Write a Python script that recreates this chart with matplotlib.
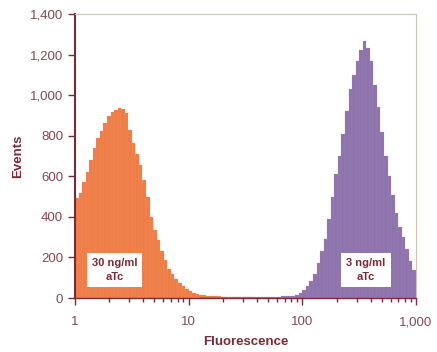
import numpy as np
import matplotlib
matplotlib.use("Agg")
import matplotlib.pyplot as plt
from matplotlib.ticker import FuncFormatter, LogLocator, FixedLocator

# fluorescence channels: 32 log-spaced bins per decade from 1 to 1,000
binsPerDecade = 32
decades = 3

# events per bin
orangeCounts = [
    495, 520, 570, 620, 680, 740, 790, 825, 862, 895,
    915, 928, 935, 932, 910, 830, 765, 710, 655, 580,
    500, 400, 335, 285, 230, 185, 145, 118, 95, 75,
    58, 45, 35, 27, 21, 17, 14, 12, 10, 9,
    8, 7, 6, 5, 5, 4, 4, 3, 3, 3,
    2, 2, 2, 2, 2, 2, 2, 2, 2, 2,
    1, 1, 1, 1, 1, 1, 0, 0, 0, 0,
    0, 0, 0, 0, 0, 0, 0, 0, 0, 0,
    0, 0, 0, 0, 0, 0, 0, 0, 0, 0,
    0, 0, 0, 0, 0, 0,
]
purpleCounts = [
    0, 0, 0, 0, 0, 0, 0, 0, 0, 0,
    0, 0, 0, 0, 0, 0, 0, 0, 0, 0,
    0, 0, 0, 0, 0, 0, 0, 0, 0, 0,
    0, 0, 1, 2, 2, 3, 3, 4, 4, 4,
    5, 5, 5, 5, 5, 5, 5, 5, 5, 5,
    5, 6, 6, 6, 6, 6, 7, 7, 8, 9,
    10, 12, 15, 25, 40, 60, 85, 120, 175, 230,
    290, 390, 500, 610, 700, 810, 920, 1030, 1100, 1170,
    1225, 1265, 1235, 1170, 1050, 940, 820, 700, 600, 510,
    420, 350, 300, 240, 180, 140,
]
labels = ["30 ng/ml\naTc", "3 ng/ml\naTc"]
labelX = [2.22, 363]
labelY = [138, 138]

maroon = "#7a2a36"
tickText = "#864852"
orange = "#ef7d48"
purple = "#8e74ac"
frame = "#cfc3b3"

edges = np.logspace(0, decades, binsPerDecade * decades + 1)
lefts = edges[:-1]
widths = np.diff(edges)

fig = plt.figure(figsize=(4.37, 3.52), dpi=100)
ax = fig.add_axes([0.1716, 0.1534, 0.952 - 0.1716, 0.960 - 0.1534])

ax.bar(lefts, orangeCounts, width=widths, align="edge", color=orange,
       edgecolor="#f29a70", linewidth=0.15)
ax.bar(lefts, purpleCounts, width=widths, align="edge", color=purple,
       edgecolor="#a38cbd", linewidth=0.15)

ax.set_xscale("log")
ax.set_xlim(1, 1000)
ax.set_ylim(0, 1400)

ax.xaxis.set_major_locator(FixedLocator([1, 10, 100, 1000]))
ax.xaxis.set_minor_locator(LogLocator(base=10, subs=np.arange(2, 10)))
ax.xaxis.set_minor_formatter(FuncFormatter(lambda v, p: ""))
ax.xaxis.set_major_formatter(FuncFormatter(lambda v, p: f"{int(v):,}"))
ax.set_yticks(np.arange(0, 1401, 200))
ax.yaxis.set_major_formatter(FuncFormatter(lambda v, p: f"{int(v):,}"))

fontName = "Liberation Sans"
ax.tick_params(axis="both", which="major", direction="out", length=5,
               width=1, color=maroon, labelcolor=tickText, labelsize=9.5)
ax.tick_params(axis="x", which="minor", direction="out", length=3,
               width=1, color=maroon)
ax.tick_params(axis="x", which="major", pad=8)
for lab in ax.get_xticklabels() + ax.get_yticklabels():
    lab.set_fontfamily(fontName)

ax.spines["left"].set_color(maroon)
ax.spines["left"].set_linewidth(1.5)
ax.spines["bottom"].set_color(maroon)
ax.spines["bottom"].set_linewidth(1)
ax.spines["top"].set_color(frame)
ax.spines["right"].set_color(frame)

ax.set_xlabel("Fluorescence", fontsize=9.5, fontweight="bold", color=maroon,
              fontfamily=fontName, labelpad=6)
ax.set_ylabel("Events", fontsize=9.5, fontweight="bold", color=maroon,
              fontfamily=fontName, labelpad=4)

for text, x, y in zip(labels, labelX, labelY):
    ax.text(x, y, text, ha="center", va="center", fontsize=8,
            fontweight="bold", color=maroon, fontfamily=fontName,
            linespacing=1.4,
            bbox=dict(boxstyle="square,pad=0.45", facecolor="white",
                      edgecolor="none"))

fig.savefig("out.png", dpi=100)
